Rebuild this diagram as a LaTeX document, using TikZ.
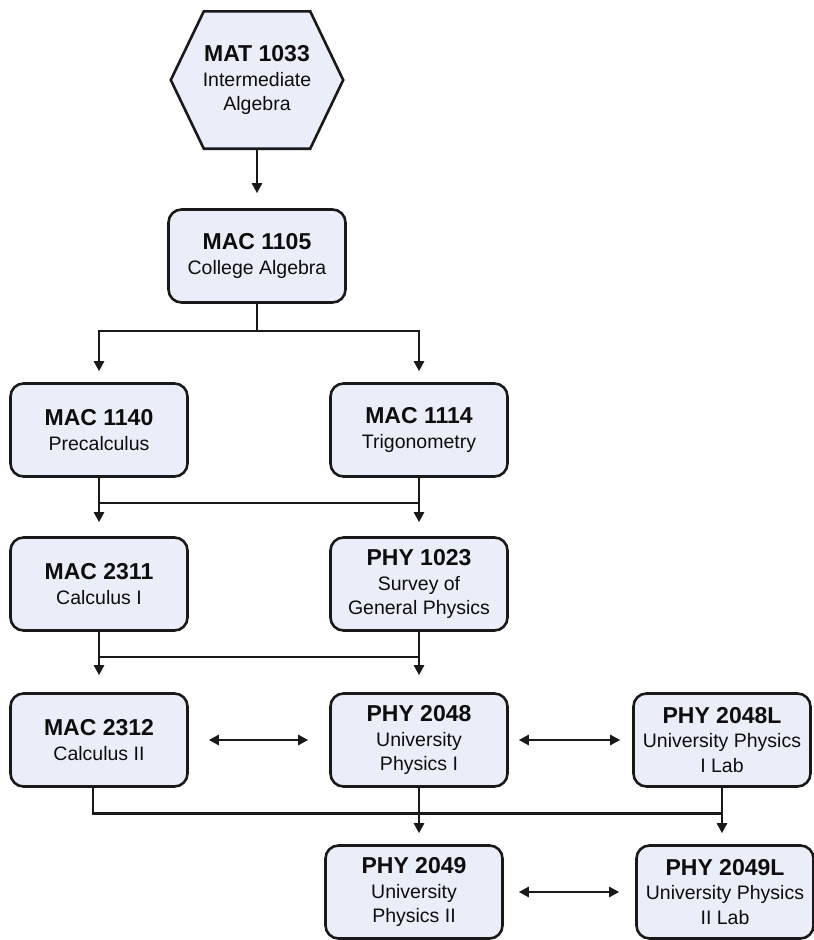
\documentclass[tikz,border=0pt]{standalone}
\usepackage{fontspec}
\setmainfont{Liberation Sans}
\usepackage{xcolor}
\usetikzlibrary{arrows.meta,backgrounds,calc}

\definecolor{crsfill}{HTML}{EAEEF8}
\newcommand\crscode[1]{{\fontsize{23}{24}\selectfont\bfseries #1}}

\begin{document}
\begin{tikzpicture}[x=1pt, y=-1pt,
  lbl/.style  = {align=center, inner sep=2pt, text=black!95,
                 font=\fontsize{19.5}{24.5}\selectfont},
  crs/.style  = {lbl, draw=black!90, line width=2.6pt, fill=crsfill,
                 rounded corners=13pt, minimum width=177pt,
                 minimum height=93pt},
  hexn/.style = {lbl, minimum width=172pt, minimum height=137pt},
  hexl/.style = {draw=black!90, line width=2.6pt, fill=crsfill},
  ln/.style   = {line width=2.5pt, black!90},
  arr/.style  = {ln, -{Triangle[length=10pt,width=10pt]}},
  dbl/.style  = {ln, {Triangle[length=10pt,width=10pt]}-{Triangle[length=10pt,width=10pt]}},
]
\useasboundingbox (0,0) rectangle (814,940);

%% ── Courses ─────────────────────────────────────────────────────────────────
\node[hexn] (M1033)  at (257, 80) {\crscode{MAT 1033}\\Intermediate\\Algebra};
\node[crs]  (C1105)  at (257,256) {\crscode{MAC 1105}\\College Algebra};
\node[crs]  (C1140)  at ( 99,430) {\crscode{MAC 1140}\\Precalculus};
\node[crs]  (C1114)  at (419,430) {\crscode{MAC 1114}\\Trigonometry};
\node[crs]  (C2311)  at ( 99,584) {\crscode{MAC 2311}\\Calculus I};
\node[crs]  (P1023)  at (419,584) {\crscode{PHY 1023}\\Survey of\\General Physics};
\node[crs]  (C2312)  at ( 99,740) {\crscode{MAC 2312}\\Calculus II};
\node[crs]  (P2048)  at (419,740) {\crscode{PHY 2048}\\University\\Physics I};
\node[crs]  (P2048L) at (722,740) {\crscode{PHY 2048L}\\University Physics\\I Lab};
\node[crs]  (P2049)  at (414,892) {\crscode{PHY 2049}\\University\\Physics II};
\node[crs]  (P2049L) at (725,892) {\crscode{PHY 2049L}\\University Physics\\II Lab};

\begin{scope}[on background layer]
  \draw[hexl] ([xshift=33pt]M1033.north west) -- ([xshift=-33pt]M1033.north east)
    -- (M1033.east) -- ([xshift=-33pt]M1033.south east)
    -- ([xshift=33pt]M1033.south west) -- (M1033.west) -- cycle;
\end{scope}

%% ── Prerequisite lines ──────────────────────────────────────────────────────
\draw[arr, shorten >=15pt] (M1033) -- (C1105);

\draw[ln] (C1105) -- ($(C1105.south)+(0,27)$) coordinate (J1);
\draw[arr, shorten >=11pt] (J1) -| (C1140.north);
\draw[arr, shorten >=11pt] (J1) -| (C1114.north);

\draw[arr, shorten >=14pt] (C1140) -- (C2311);
\draw[arr, shorten >=14pt] (C1114) -- (P1023);
\draw[ln] ($(C1140.south)+(0,25)$) -- ($(C1114.south)+(0,25)$);

\draw[arr, shorten >=17pt] (C2311) -- (C2312);
\draw[arr, shorten >=17pt] (P1023) -- (P2048);
\draw[ln] ($(C2311.south)+(0,25)$) -- ($(P1023.south)+(0,25)$);

\draw[ln] ([xshift=-6pt]C2312.south) -- ++(0,25.5) coordinate (J3)
  -- (J3 -| P2048L.south);
\draw[arr, shorten >=11pt] (P2048.south) -- (P2048.south |- P2049.north);
\draw[arr, shorten >=11pt] (P2048L.south) -- (P2048L.south |- P2049L.north);

%% ── Co-requisites ───────────────────────────────────────────────────────────
\draw[dbl, shorten <=20pt, shorten >=21pt] (C2312) -- (P2048);
\draw[dbl, shorten <=10pt, shorten >=12pt] (P2048) -- (P2048L);
\draw[dbl, shorten <=15pt, shorten >=16pt] (P2049) -- (P2049L);

\end{tikzpicture}
\end{document}
